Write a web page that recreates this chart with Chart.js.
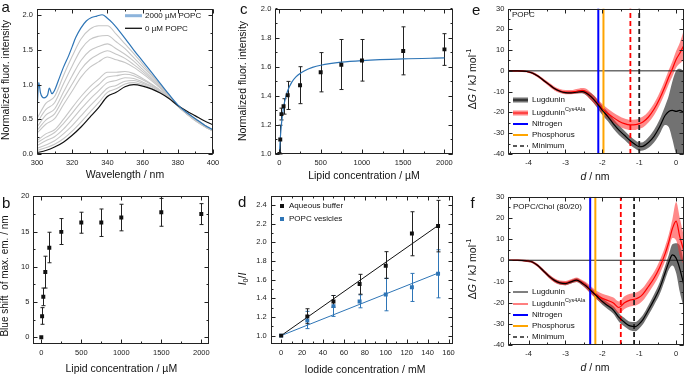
<!DOCTYPE html>
<html>
<head>
<meta charset="UTF-8">
<title>Lugdunin membrane interaction</title>
<script src="https://cdn.jsdelivr.net/npm/chart.js@4.4.1/dist/chart.umd.min.js"></script>
<style>
  body { margin: 0; background: #fff; }
  #wrap { position: relative; width: 685px; height: 376px; overflow: hidden; }
  canvas { position: absolute; }
</style>
</head>
<body>
<div id="wrap">
  <canvas id="pa"></canvas>
  <canvas id="pb"></canvas>
  <canvas id="pc"></canvas>
  <canvas id="pd"></canvas>
  <canvas id="pe"></canvas>
  <canvas id="pf"></canvas>
</div>
<script>
const FONT = '"Liberation Sans", Arial, Helvetica, sans-serif';

// ---- a: emission spectra ----
const wavelength = [300,305,310,315,320,325,330,335,340,345,350,355,360,365,370,375,380,385,390,395,400];
const spec0 = [0.02,0.05,0.10,0.17,0.27,0.39,0.53,0.67,0.83,0.89,0.97,1.00,0.98,0.94,0.88,0.80,0.70,0.62,0.55,0.48,0.42];
const wavelength2000 = [300,301,302,304,306,307,308.5,310,312,315,318,320,322,325,328,331,334,337,340,343,346,350,355,360,365,370,375,380,385,390,395,400];
const spec2000 = [0.62,1.03,0.88,0.81,0.85,0.95,0.87,0.92,1.05,1.25,1.42,1.55,1.68,1.82,1.92,1.97,1.99,2.01,1.96,1.89,1.80,1.67,1.50,1.34,1.18,1.02,0.86,0.71,0.60,0.51,0.42,0.35];
const specSteps = [
  [0.51,0.73,0.83,1.13,1.41,1.66,1.80,1.85,1.85,1.73,1.59,1.45,1.30,1.15,1.00,0.85,0.70,0.60,0.51,0.42,0.35],
  [0.45,0.64,0.74,1.01,1.27,1.51,1.65,1.70,1.71,1.62,1.52,1.39,1.26,1.13,0.99,0.85,0.70,0.60,0.50,0.42,0.34],
  [0.39,0.56,0.65,0.89,1.13,1.35,1.49,1.55,1.59,1.52,1.44,1.34,1.22,1.10,0.97,0.84,0.69,0.59,0.50,0.42,0.34],
  [0.34,0.49,0.58,0.80,1.01,1.22,1.36,1.44,1.49,1.44,1.38,1.29,1.19,1.08,0.96,0.83,0.69,0.59,0.50,0.42,0.34],
  [0.30,0.43,0.51,0.71,0.91,1.11,1.25,1.33,1.40,1.36,1.32,1.25,1.16,1.06,0.95,0.83,0.69,0.59,0.49,0.41,0.34],
  [0.19,0.29,0.35,0.50,0.67,0.83,0.97,1.08,1.18,1.18,1.19,1.16,1.09,1.01,0.92,0.82,0.69,0.59,0.49,0.41,0.34],
  [0.16,0.24,0.31,0.44,0.59,0.75,0.89,1.00,1.11,1.13,1.15,1.13,1.07,1.00,0.92,0.82,0.69,0.58,0.49,0.41,0.34],
  [0.12,0.19,0.25,0.36,0.50,0.65,0.79,0.91,1.03,1.06,1.10,1.09,1.04,0.98,0.91,0.81,0.69,0.58,0.49,0.40,0.33],
  [0.08,0.13,0.19,0.29,0.41,0.55,0.69,0.82,0.95,0.99,1.05,1.06,1.02,0.97,0.90,0.81,0.69,0.58,0.48,0.40,0.33],
  [0.05,0.09,0.14,0.22,0.33,0.46,0.60,0.74,0.89,0.94,1.01,1.03,1.00,0.95,0.89,0.80,0.69,0.58,0.48,0.40,0.33]
];

// ---- b, c: lipid titration ----
const lipidConc = [0,10,25,50,100,250,500,750,1000,1500,2000];
const blueShift = [0,2.97,5.75,9.25,12.7,14.95,16.27,16.27,16.98,17.74,17.5];
const blueShiftHi = [0,4.2,6.98,11.5,14.9,16.84,17.74,18.2,18.87,19.7,18.96];
const blueShiftLo = [0,1.84,4.48,6.98,10.57,13.16,14.76,14.3,15.1,15.75,15.99];
const fluorInt = [1.00,1.10,1.274,1.328,1.404,1.472,1.562,1.613,1.643,1.708,1.719];
const fluorHi = [1.00,1.198,1.315,1.38,1.499,1.60,1.697,1.787,1.787,1.874,1.827];
const fluorLo = [1.00,1.00,1.234,1.274,1.306,1.346,1.427,1.443,1.501,1.544,1.609];
const fitConc = [0,10,25,50,75,100,150,200,250,300,400,500,750,1000,1500,2000];
const fitInt = [1.0,1.103,1.209,1.320,1.388,1.435,1.494,1.530,1.554,1.571,1.595,1.610,1.631,1.642,1.654,1.660];

// ---- d: Stern-Volmer quenching ----
const iodide = [0,25,50,75,100,125,150];
const aqueous = [1.0,1.206,1.366,1.554,1.749,2.094,2.175];
const aqueousHi = [1.0,1.288,1.43,1.657,1.90,2.328,2.45];
const aqueousLo = [1.0,1.128,1.305,1.444,1.614,1.856,1.898];
const vesicles = [1.0,1.163,1.316,1.366,1.44,1.518,1.664];
const vesiclesHi = [1.0,1.26,1.43,1.437,1.614,1.667,1.92];
const vesiclesLo = [1.0,1.075,1.206,1.298,1.266,1.366,1.405];
const svFitX = [0,150];
const aqueousFit = [1.0,2.18];
const vesiclesFit = [1.0,1.67];

// ---- e, f: free energy profiles ----
const dist = [-4.55,-4.3,-4.05,-3.9,-3.75,-3.6,-3.45,-3.3,-3.15,-3.0,-2.85,-2.7,-2.55,-2.45,-2.3,-2.15,-2.0,-1.85,-1.7,-1.55,-1.4,-1.25,-1.1,-1.0,-0.9,-0.75,-0.6,-0.45,-0.3,-0.2,-0.1,0.0,0.1,0.2];
const popcLug = [0,0,-0.3,-1.0,-2.5,-4.5,-6.5,-8.5,-9.8,-10.5,-10.6,-10.3,-10.0,-10.5,-12.5,-15.5,-19.0,-22.0,-25.5,-28.5,-31.0,-33.5,-35.5,-36.5,-36.3,-34.5,-31.5,-27.0,-21.5,-19.5,-19.0,-19.5,-19.0,-20.0];
const popcLugHi = [0.3,0.3,0,-0.6,-2,-4,-6,-8,-9.3,-10,-10.1,-9.7,-9.2,-9.4,-10.8,-13.5,-16.8,-19.8,-23.2,-26.2,-28.8,-31.3,-33.5,-34.5,-34.3,-32,-28.5,-23.5,-17,-12,-5,0,1,0];
const popcLugLo = [-0.3,-0.3,-0.6,-1.4,-3,-5,-7,-9,-10.3,-11,-11.1,-10.9,-10.8,-11.6,-14.2,-17.5,-21.2,-24.2,-27.8,-30.8,-33.2,-35.7,-37.5,-38.5,-38.3,-37,-34.5,-30.5,-26,-27,-33,-40,-42,-42];
const popcAla = [0,0,-0.3,-1.0,-2.5,-4.5,-6.5,-8.5,-9.7,-10.2,-10.2,-9.8,-9.4,-10.0,-12.5,-15.2,-18.2,-20.5,-22.5,-24.2,-25.4,-26.0,-25.9,-25.4,-24.6,-22.2,-18.5,-13.5,-7.5,-3.0,1.0,5.5,8.5,12.0];
const popcAlaHi = [0.4,0.4,0.2,-0.4,-1.8,-3.7,-5.6,-7.5,-8.7,-9.2,-9.2,-8.7,-8.2,-8.5,-10.7,-13.2,-16.0,-18.2,-20.1,-21.7,-22.9,-23.5,-23.4,-22.9,-22.0,-19.5,-15.7,-10.5,-4.3,0.4,4.6,9.5,13.5,19.0];
const popcAlaLo = [-0.4,-0.4,-0.8,-1.6,-3.2,-5.3,-7.4,-9.5,-10.7,-11.2,-11.2,-10.9,-10.6,-11.5,-14.3,-17.2,-20.4,-22.8,-24.9,-26.7,-27.9,-28.5,-28.4,-27.9,-27.2,-24.9,-21.3,-16.5,-10.7,-6.4,-2.6,1.5,3.5,5.0];
const cholLug = [0,0,-0.3,-0.8,-2.5,-5.0,-7.5,-9.5,-10.7,-11.0,-10.2,-9.4,-10.8,-12.0,-14.5,-17.0,-19.5,-21.5,-23.5,-27.0,-29.3,-31.0,-31.3,-30.0,-28.0,-23.5,-18.7,-13.4,-6.0,-1.0,2.5,1.0,-4.0,-11.0];
const cholLugHi = [0.3,0.3,0.1,-0.3,-1.9,-4.3,-6.7,-8.7,-9.9,-10.2,-9.4,-8.5,-9.8,-10.8,-13.2,-15.6,-18.0,-19.9,-21.7,-25.0,-27.3,-29.0,-29.1,-27.8,-25.8,-21.2,-16.2,-10.6,-2.8,2.5,7.5,8.0,7.0,0.0];
const cholLugLo = [-0.3,-0.3,-0.7,-1.3,-3.1,-5.7,-8.3,-10.3,-11.5,-11.8,-11.0,-10.3,-11.8,-13.2,-15.8,-18.4,-21.0,-23.1,-25.3,-29.0,-31.3,-33.0,-33.5,-32.2,-30.2,-25.8,-21.2,-16.2,-9.2,-4.5,-2.5,-6.0,-15.0,-22.0];
const cholAla = [0,0,-0.3,-0.8,-2.5,-5.0,-7.5,-9.5,-10.6,-10.8,-10.0,-9.2,-10.5,-11.8,-14.3,-16.5,-18.0,-19.0,-20.2,-22.3,-20.0,-18.8,-18.3,-17.5,-16.0,-12.4,-8.5,-3.5,3.0,8.5,15.0,18.5,11.0,5.0];
const cholAlaHi = [0.4,0.4,0.2,-0.2,-1.8,-4.2,-6.6,-8.5,-9.6,-9.8,-9.0,-8.1,-9.3,-10.3,-12.5,-14.5,-15.8,-16.6,-17.6,-19.5,-17.0,-15.8,-15.3,-14.5,-13.0,-9.4,-5.5,-0.3,6.4,12.1,19.5,27.5,20.0,12.0];
const cholAlaLo = [-0.4,-0.4,-0.8,-1.4,-3.2,-5.8,-8.4,-10.5,-11.6,-11.8,-11.0,-10.3,-11.7,-13.3,-16.1,-18.5,-20.2,-21.4,-22.8,-25.1,-23.0,-21.8,-21.3,-20.5,-19.0,-15.4,-11.5,-6.7,-0.4,4.9,10.5,9.5,2.0,-2.0];
// nitrogen, phosphorus, minimum Lugdunin, minimum Cys4Ala
const popcMarks = [-2.11,-1.97,-1.0,-1.24];
const cholMarks = [-2.33,-2.19,-1.14,-1.5];

// ---- tick values ----
const ticksWavelength = [300,320,340,360,380,400];
const ticksSpec = [0,0.5,1,1.5,2];
const ticksConc = [0,500,1000,1500,2000];
const ticksShift = [0,5,10,15,20];
const ticksFluor = [1.0,1.2,1.4,1.6,1.8,2.0];
const ticksIodide = [0,20,40,60,80,100,120,140,160];
const ticksRatio = [1.0,1.2,1.4,1.6,1.8,2.0,2.2,2.4];
const ticksDist = [-4,-3,-2,-1,0];
const ticksEnergy = [-40,-30,-20,-10,0,10,20,30];

function pts(xs, ys) { return xs.map((x, i) => ({ x: x, y: ys[i] })); }

function rich(ctx, segs, x, y, size, opt) {
  opt = opt || {};
  ctx.save();
  ctx.translate(x, y);
  if (opt.rot) ctx.rotate(-Math.PI / 2);
  ctx.fillStyle = '#111';
  ctx.textBaseline = opt.base || 'middle';
  const fontOf = s => (s === 'i' ? 'italic ' : '') + (s === 'sup' || s === 'sub' ? size * 0.68 : size) + 'px ' + FONT;
  let w = 0;
  segs.forEach(([t, s]) => { ctx.font = fontOf(s); w += ctx.measureText(t).width; });
  let cx = opt.align === 'left' ? 0 : -w / 2;
  segs.forEach(([t, s]) => {
    ctx.font = fontOf(s);
    const dy = s === 'sup' ? -size * 0.38 : s === 'sub' ? size * 0.28 : 0;
    ctx.fillText(t, cx, dy);
    cx += ctx.measureText(t).width;
  });
  ctx.restore();
}

Chart.register({
  id: 'errbars',
  beforeDatasetsDraw(chart, args, o) {
    if (!o.sets) return;
    const { ctx, scales: { x, y } } = chart;
    ctx.save();
    ctx.lineWidth = 1;
    o.sets.forEach(s => {
      ctx.strokeStyle = s.color;
      s.x.forEach((v, i) => {
        if (s.hi[i] === s.lo[i]) return;
        const px = Math.round(x.getPixelForValue(v)) + 0.5;
        const top = y.getPixelForValue(s.hi[i]), bot = y.getPixelForValue(s.lo[i]);
        ctx.beginPath();
        ctx.moveTo(px, top); ctx.lineTo(px, bot);
        ctx.moveTo(px - 2, top); ctx.lineTo(px + 2, top);
        ctx.moveTo(px - 2, bot); ctx.lineTo(px + 2, bot);
        ctx.stroke();
      });
    });
    ctx.restore();
  }
});

Chart.register({
  id: 'frame',
  afterDatasetsDraw(chart, args, o) {
    if (!o.xMinor) return;
    const { ctx, chartArea: a, scales: { x, y } } = chart;
    const L = Math.round(a.left) + 0.5, R = Math.round(a.right) - 0.5;
    const T = Math.round(a.top) + 0.5, B = Math.round(a.bottom) - 0.5;
    ctx.save();
    ctx.strokeStyle = '#222';
    ctx.lineWidth = 1;
    ctx.strokeRect(L, T, R - L, B - T);
    ctx.beginPath();
    const xt = (v, len) => {
      const p = Math.round(x.getPixelForValue(v)) + 0.5;
      ctx.moveTo(p, B); ctx.lineTo(p, B - len);
      ctx.moveTo(p, T); ctx.lineTo(p, T + len);
    };
    const yt = (v, len) => {
      const p = Math.round(y.getPixelForValue(v)) + 0.5;
      ctx.moveTo(L, p); ctx.lineTo(L + len, p);
      ctx.moveTo(R, p); ctx.lineTo(R - len, p);
    };
    x.ticks.forEach(t => xt(t.value, 4));
    y.ticks.forEach(t => yt(t.value, 4));
    for (let v = Math.ceil(x.min / o.xMinor) * o.xMinor; v <= x.max + 1e-9; v += o.xMinor) xt(v, 2);
    for (let v = Math.ceil(y.min / o.yMinor) * o.yMinor; v <= y.max + 1e-9; v += o.yMinor) yt(v, 2);
    ctx.stroke();
    ctx.restore();
  }
});

Chart.register({
  id: 'deco',
  afterDraw(chart, args, o) {
    const ctx = chart.ctx, ox = o.ox || 0, oy = o.oy || 0;
    (o.keys || []).forEach(k => {
      const x0 = k.x0 - ox, x1 = k.x1 - ox, yy = k.y - oy;
      ctx.save();
      if (k.rect) {
        ctx.fillStyle = k.color;
        ctx.fillRect(x0 - 2, yy - 2, 4, 4);
      } else {
        if (k.band) {
          ctx.strokeStyle = k.band; ctx.lineWidth = 5;
          ctx.beginPath(); ctx.moveTo(x0, yy); ctx.lineTo(x1, yy); ctx.stroke();
        }
        ctx.strokeStyle = k.color; ctx.lineWidth = k.w;
        ctx.setLineDash(k.dash || []);
        ctx.beginPath(); ctx.moveTo(x0, yy); ctx.lineTo(x1, yy); ctx.stroke();
      }
      ctx.restore();
    });
    (o.texts || []).forEach(t => rich(ctx, t.s, t.x - ox, t.y - oy, t.size, t));
  }
});

function axis(min, max, ticks, fmt) {
  return {
    type: 'linear', min: min, max: max,
    grid: { display: false, drawTicks: false },
    border: { display: false },
    afterBuildTicks: s => { s.ticks = ticks.map(v => ({ value: v })); },
    ticks: {
      padding: 4, color: '#222', autoSkip: false, maxRotation: 0,
      font: { family: FONT, size: 7.5 }, callback: fmt
    }
  };
}

function makeChart(id, box, area, xAxis, yAxis, datasets, plug) {
  const cv = document.getElementById(id);
  cv.width = box.w; cv.height = box.h;
  cv.style.left = box.x + 'px'; cv.style.top = box.y + 'px';
  xAxis.afterFit = s => { s.height = box.y + box.h - area.b; };
  yAxis.afterFit = s => { s.width = area.l - box.x; };
  plug.deco.ox = box.x; plug.deco.oy = box.y;
  plug.legend = { display: false };
  plug.tooltip = { enabled: false };
  return new Chart(cv, {
    type: 'line',
    data: { datasets: datasets },
    options: {
      responsive: false, animation: false, events: [],
      layout: { padding: { left: 0, bottom: 0, top: area.t - box.y, right: box.x + box.w - area.r } },
      elements: { point: { radius: 0 } },
      scales: { x: xAxis, y: yAxis },
      plugins: plug
    }
  });
}

const fix1 = v => v.toFixed(1);
const plain = v => String(v);
const T = (text, x, y, size, extra) => Object.assign({ s: typeof text === 'string' ? [[text, '']] : text, x: x, y: y, size: size }, extra || {});
const letter = (t, x, y) => T(t, x, y, 15, { base: 'alphabetic', align: 'left' });
const curve = (xs, ys, color, w) => ({ data: pts(xs, ys), borderColor: color, borderWidth: w, pointRadius: 0, cubicInterpolationMode: 'monotone' });
const marks = (xs, ys, color) => ({ data: pts(xs, ys), showLine: false, pointStyle: 'rect', pointRadius: 2.8, pointBackgroundColor: color, pointBorderWidth: 0, borderColor: color });

// a
makeChart('pa', { x: 0, y: 0, w: 228, h: 186 }, { l: 37, r: 213, t: 5, b: 154 },
  axis(300, 400, ticksWavelength, plain), axis(0, 2.1, ticksSpec, fix1),
  [curve(wavelength2000, spec2000, '#2e75b6', 1.2), curve(wavelength, spec0, '#111', 1.2)]
    .concat(specSteps.map(s => curve(wavelength, s, '#c6c6c6', 1.1))),
  {
    frame: { xMinor: 10, yMinor: 0.25 },
    deco: {
      keys: [{ x0: 125, x1: 142, y: 15.7, color: '#8db4dc', w: 3 }, { x0: 125, x1: 142, y: 28.3, color: '#111', w: 1.3 }],
      texts: [letter('a', 1.5, 11.7), T('2000 µM POPC', 145, 15.7, 8, { align: 'left' }), T('0 µM POPC', 145, 28.3, 8, { align: 'left' }),
        T('Normalized fluor. intensity', 6, 80, 10.5, { rot: true }), T('Wavelength / nm', 125, 175.5, 10.5)]
    }
  });

// b
makeChart('pb', { x: 0, y: 186, w: 228, h: 190 }, { l: 33.3, r: 209.3, t: 196.3, b: 344.3 },
  axis(-100, 2100, ticksConc, plain), axis(-1, 20, ticksShift, plain),
  [marks(lipidConc, blueShift, '#111')],
  {
    frame: { xMinor: 250, yMinor: 2.5 },
    errbars: { sets: [{ x: lipidConc, hi: blueShiftHi, lo: blueShiftLo, color: '#222' }] },
    deco: { texts: [letter('b', 2, 208.3), T('Blue shift  of max. em. / nm', 5.5, 276, 10, { rot: true }), T('Lipid concentration / µM', 121.3, 369, 10.5)] }
  });

// c
makeChart('pc', { x: 228, y: 0, w: 232, h: 186 }, { l: 275.3, r: 452.7, t: 5.7, b: 154 },
  axis(-50, 2100, ticksConc, plain), axis(1.0, 2.0, ticksFluor, fix1),
  [marks(lipidConc, fluorInt, '#111'), curve(fitConc, fitInt, '#2e75b6', 1.2)],
  {
    frame: { xMinor: 250, yMinor: 0.1 },
    errbars: { sets: [{ x: lipidConc, hi: fluorHi, lo: fluorLo, color: '#222' }] },
    deco: { texts: [letter('c', 240, 14), T('Normalized fluor. intensity', 243.3, 81, 10.5, { rot: true }), T('Lipid concentration / µM', 364, 176, 10.5)] }
  });

// d
makeChart('pd', { x: 228, y: 186, w: 232, h: 190 }, { l: 270.7, r: 452.7, t: 195.7, b: 344 },
  axis(-10, 164, ticksIodide, plain), axis(0.91, 2.5, ticksRatio, fix1),
  [marks(iodide, aqueous, '#111'), marks(iodide, vesicles, '#2e75b6'),
   curve(svFitX, aqueousFit, '#111', 1), curve(svFitX, vesiclesFit, '#2e75b6', 1)],
  {
    frame: { xMinor: 10, yMinor: 0.1 },
    errbars: { sets: [{ x: iodide, hi: vesiclesHi, lo: vesiclesLo, color: '#2e75b6' }, { x: iodide, hi: aqueousHi, lo: aqueousLo, color: '#222' }] },
    deco: {
      keys: [{ rect: true, x0: 282, y: 206, color: '#111' }, { rect: true, x0: 282, y: 219, color: '#2e75b6' }],
      texts: [letter('d', 238, 207), T('Aqueous buffer', 289, 206, 8, { align: 'left' }), T('POPC vesicles', 289, 219, 8, { align: 'left' }),
        T([['I', 'i'], ['0', 'sub'], ['/', ''], ['I', 'i']], 243, 279, 10.5, { rot: true }), T('Iodide concentration / mM', 365, 370, 10.5)]
    }
  });

// e, f
function energySets(mean, hi, lo, ala, alaHi, alaLo, m) {
  const vline = (v, color, w, dash) => ({ data: pts([v, v], [-40, 30]), borderColor: color, borderWidth: w, borderDash: dash || [], pointRadius: 0 });
  return [
    curve(dist, mean, '#000', 1.2),
    curve(dist, ala, '#ff0000', 1.2),
    vline(m[2], '#222', 1.8, [5, 3]),
    vline(m[3], '#ff0000', 1.8, [5, 3]),
    vline(m[0], '#0000ff', 2),
    vline(m[1], '#ffa500', 2),
    { data: pts([-4.55, 0.2], [0, 0]), borderColor: '#222', borderWidth: 1, pointRadius: 0 },
    Object.assign(curve(dist, alaLo, 'transparent', 1), { borderWidth: 0 }),
    Object.assign(curve(dist, alaHi, 'transparent', 1), { borderWidth: 0, fill: '-1', backgroundColor: 'rgba(255,40,40,0.55)' }),
    Object.assign(curve(dist, lo, 'transparent', 1), { borderWidth: 0 }),
    Object.assign(curve(dist, hi, 'transparent', 1), { borderWidth: 0, fill: '-1', backgroundColor: 'rgba(60,60,60,0.72)' })
  ];
}
function energyKeys(rows, thick) {
  return [
    { x0: 513, x1: 528, y: rows[0], band: thick ? 'rgba(60,60,60,0.72)' : null, color: '#000', w: 1 },
    { x0: 513, x1: 528, y: rows[1], band: thick ? 'rgba(255,40,40,0.55)' : null, color: '#ff0000', w: 1 },
    { x0: 513, x1: 528, y: rows[2], color: '#0000ff', w: 2 },
    { x0: 513, x1: 528, y: rows[3], color: '#ffa500', w: 2 },
    { x0: 513, x1: 528, y: rows[4], color: '#222', w: 1.5, dash: [4, 3] }
  ];
}
function energyTexts(rows) {
  const l = { align: 'left' };
  return [T('Lugdunin', 532, rows[0], 8, l), T([['Lugdunin', ''], ['Cys4Ala', 'sup']], 532, rows[1], 8, l),
    T('Nitrogen', 532, rows[2], 8, l), T('Phosphorus', 532, rows[3], 8, l), T('Minimum', 532, rows[4], 8, l)];
}
const dgTitle = [['Δ', ''], ['G', 'i'], [' / kJ mol', ''], ['-1', 'sup']];
const dTitle = [['d', 'i'], [' / nm', '']];
const rowsE = [100, 113, 124, 135, 146];
const rowsF = [292, 304, 315, 326, 337];

makeChart('pe', { x: 460, y: 0, w: 225, h: 186 }, { l: 508.3, r: 683.5, t: 5.7, b: 154 },
  axis(-4.55, 0.2, ticksDist, plain), axis(-40, 30, ticksEnergy, plain),
  energySets(popcLug, popcLugHi, popcLugLo, popcAla, popcAlaHi, popcAlaLo, popcMarks),
  {
    frame: { xMinor: 0.5, yMinor: 5 },
    deco: {
      keys: energyKeys(rowsE, true),
      texts: [letter('e', 472, 15), T('POPC', 512, 15, 8, { align: 'left' }), T(dgTitle, 473, 79, 10.5, { rot: true }), T(dTitle, 595, 177, 10.5)]
        .concat(energyTexts(rowsE))
    }
  });

makeChart('pf', { x: 460, y: 186, w: 225, h: 190 }, { l: 508.3, r: 683.5, t: 196.7, b: 345 },
  axis(-4.55, 0.2, ticksDist, plain), axis(-40, 30, ticksEnergy, plain),
  energySets(cholLug, cholLugHi, cholLugLo, cholAla, cholAlaHi, cholAlaLo, cholMarks),
  {
    frame: { xMinor: 0.5, yMinor: 5 },
    deco: {
      keys: energyKeys(rowsF, false),
      texts: [letter('f', 470.5, 208.3), T('POPC/Chol (80/20)', 513, 207, 8, { align: 'left' }), T(dgTitle, 473, 269, 10.5, { rot: true }), T(dTitle, 595, 368, 10.5)]
        .concat(energyTexts(rowsF))
    }
  });
</script>
</body>
</html>
